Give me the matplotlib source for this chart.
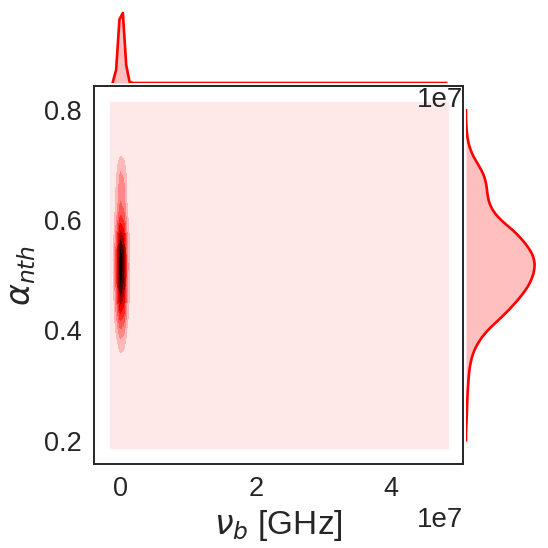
import numpy as np
import matplotlib
matplotlib.use("Agg")
import matplotlib.pyplot as plt
from matplotlib.colors import LinearSegmentedColormap
from matplotlib.ticker import MaxNLocator

# posterior samples (binned)
alpha_values = [0.24, 0.26, 0.28, 0.30, 0.32, 0.34, 0.36, 0.38, 0.40, 0.42,
                0.44, 0.46, 0.48, 0.50, 0.52, 0.54, 0.56, 0.58, 0.60, 0.62,
                0.64, 0.66, 0.68, 0.70, 0.72, 0.74, 0.76]
alpha_weights = [0.01, 0.015, 0.02, 0.03, 0.04, 0.06, 0.10, 0.18, 0.30, 0.48,
                 0.64, 0.78, 0.90, 0.97, 1.00, 0.96, 0.84, 0.70, 0.49, 0.36,
                 0.31, 0.30, 0.27, 0.18, 0.08, 0.03, 0.01]
nu_b_values = [0.2e5, 0.6e5, 1.2e5, 2.0e5, 3.5e5]
nu_b_weights = [0.30, 0.30, 0.20, 0.12, 0.08]
# single far outlier in the chain
outlier_nu_b = 4.69e7
outlier_alpha = 0.52
outlier_weight = 1e-5

x_ticks = [0, 2e7, 4e7]
y_ticks = [0.2, 0.4, 0.6, 0.8]

# kde settings (seaborn-like: gridsize 100, cut 3)
gridsize = 100
cut = 3
bw_x_uni, bw_y_uni = 0.04e7, 0.013
bw_x_biv, bw_y_biv = 0.053e7, 0.018

line_color = "red"
dark = "0.15"

plt.rcParams["font.family"] = ["Liberation Sans", "DejaVu Sans"]
plt.rcParams["mathtext.fontset"] = "dejavusans"


def gauss(grid, centers, bw):
    return np.exp(-0.5 * ((grid[:, None] - centers[None, :]) / bw) ** 2) / (bw * np.sqrt(2 * np.pi))


def support(data, bw):
    return np.linspace(data.min() - cut * bw, data.max() + cut * bw, gridsize)


# weighted 2D sample set (core population + outlier)
xs = np.repeat(np.array(nu_b_values), len(alpha_values))
ys = np.tile(np.array(alpha_values), len(nu_b_values))
ws = np.outer(nu_b_weights, alpha_weights).ravel()
ws = ws / ws.sum()
xs = np.append(xs, outlier_nu_b)
ys = np.append(ys, outlier_alpha)
ws = np.append(ws, outlier_weight)
ws = ws / ws.sum()

# univariate kdes
x_grid = support(xs, bw_x_uni)
x_dens = (gauss(x_grid, xs, bw_x_uni) * ws).sum(axis=1)
y_grid = support(ys, bw_y_uni)
y_dens = (gauss(y_grid, ys, bw_y_uni) * ws).sum(axis=1)

# bivariate kde
xx_1d = support(xs, bw_x_biv)
yy_1d = support(ys, bw_y_biv)
z = (gauss(yy_1d, ys, bw_y_biv) * ws) @ gauss(xx_1d, xs, bw_x_biv).T
xx, yy = np.meshgrid(xx_1d, yy_1d)

cmap = LinearSegmentedColormap.from_list(
    "redblack", [(0.0, "#ffe8e8"), (0.6, "#ff0000"), (1.0, "#000000")])
levels = MaxNLocator(10).tick_values(z.min(), z.max())
levels = levels[: np.searchsorted(levels, z.max()) + 1]
layer_colors = cmap(np.linspace(0, 1, len(levels) - 1))

fig = plt.figure(figsize=(5.48, 5.48), dpi=100)
ax_joint = fig.add_axes([94 / 548, 84 / 548, 369 / 548, 378 / 548])
ax_top = fig.add_axes([94 / 548, 465 / 548, 369 / 548, 73.5 / 548], sharex=ax_joint)
ax_right = fig.add_axes([466 / 548, 84 / 548, 72 / 548, 378 / 548], sharey=ax_joint)

# -----------------------------------------------------------------------------
# joint kde
# -----------------------------------------------------------------------------
ax_joint.contourf(xx, yy, z, levels=levels, colors=layer_colors)
ax_joint.set_xlim(-0.395e7, 5.06e7)
ax_joint.set_ylim(0.158, 0.843)
ax_joint.set_xticks(x_ticks)
ax_joint.set_yticks(y_ticks)
ax_joint.tick_params(length=0, labelsize=19.5, labelcolor=dark, pad=9)
ax_joint.xaxis.get_offset_text().set_fontsize(20)
ax_joint.xaxis.get_offset_text().set_color(dark)
for sp in ax_joint.spines.values():
    sp.set_color(dark)
    sp.set_linewidth(1.4)
ax_joint.set_xlabel(r"$\nu_b$ [GHz]", fontsize=24, color=dark)
ax_joint.set_ylabel(r"$\alpha_{nth}$", fontsize=24, color=dark)

# -----------------------------------------------------------------------------
# marginals
# -----------------------------------------------------------------------------
ax_top.fill_between(x_grid, 0, x_dens, color=line_color, alpha=0.25, lw=0)
ax_top.plot(x_grid, x_dens, color=line_color, lw=1.9)
ax_top.set_ylim(0, x_dens.max() * 1.05)

ax_right.fill_betweenx(y_grid, 0, y_dens, color=line_color, alpha=0.25, lw=0)
ax_right.plot(y_dens, y_grid, color=line_color, lw=1.9)
ax_right.set_xlim(0, y_dens.max() * 1.05)

for ax in (ax_top, ax_right):
    for sp in ax.spines.values():
        sp.set_visible(False)
    ax.tick_params(length=0)
plt.setp(ax_top.get_xticklabels(), visible=False)
ax_top.set_yticks([])
plt.setp(ax_right.get_yticklabels(), visible=False)
ax_right.set_xticks([])
ax_top.xaxis.get_offset_text().set_fontsize(20)
ax_top.xaxis.get_offset_text().set_color(dark)

fig.savefig("out.png", dpi=100)
